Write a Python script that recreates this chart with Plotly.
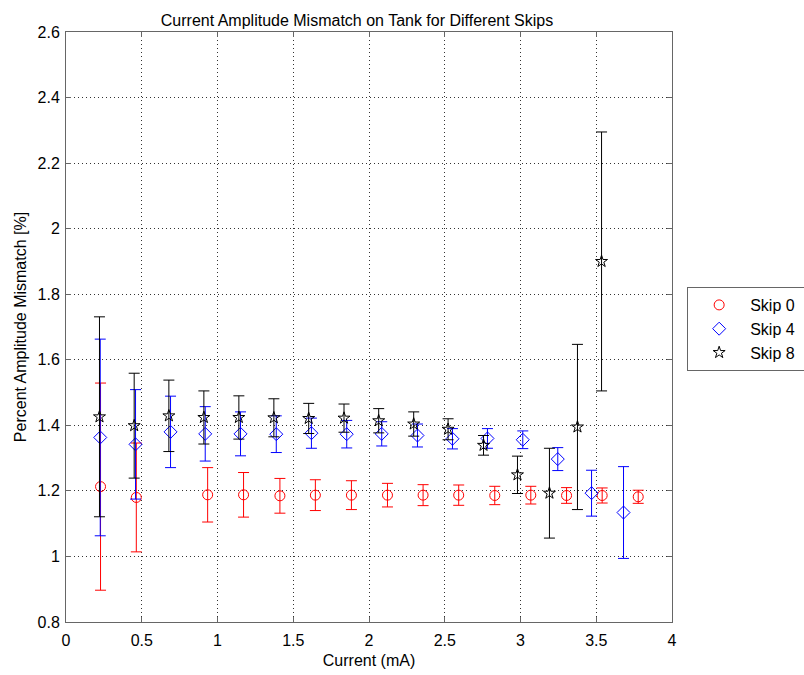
import plotly.graph_objects as go

# Skip 0 (red circles)
x_skip0 = [0.228, 0.464, 0.935, 1.172, 1.412, 1.646, 1.884, 2.122, 2.357, 2.592, 2.830, 3.068, 3.304, 3.539, 3.777]
y_skip0 = [1.213, 1.180, 1.188, 1.188, 1.185, 1.187, 1.187, 1.187, 1.187, 1.187, 1.186, 1.187, 1.186, 1.186, 1.182]
e_skip0 = [0.316, 0.166, 0.083, 0.068, 0.053, 0.047, 0.044, 0.036, 0.032, 0.031, 0.028, 0.027, 0.024, 0.023, 0.020]

# Skip 4 (blue diamonds)
x_skip4 = [0.226, 0.459, 0.690, 0.919, 1.152, 1.388, 1.620, 1.853, 2.084, 2.320, 2.551, 2.782, 3.015, 3.246, 3.469, 3.680]
y_skip4 = [1.363, 1.342, 1.380, 1.374, 1.374, 1.373, 1.376, 1.373, 1.374, 1.369, 1.359, 1.360, 1.356, 1.297, 1.193, 1.134]
e_skip4 = [0.300, 0.167, 0.109, 0.083, 0.067, 0.056, 0.046, 0.042, 0.037, 0.035, 0.031, 0.030, 0.027, 0.035, 0.070, 0.140]

# Skip 8 (black stars)
x_skip8 = [0.221, 0.450, 0.679, 0.910, 1.141, 1.372, 1.602, 1.835, 2.064, 2.295, 2.522, 2.756, 2.980, 3.191, 3.376, 3.535]
y_skip8 = [1.426, 1.399, 1.429, 1.424, 1.424, 1.423, 1.421, 1.422, 1.414, 1.404, 1.388, 1.339, 1.249, 1.193, 1.395, 1.900]
e_skip8 = [0.305, 0.160, 0.109, 0.081, 0.066, 0.058, 0.046, 0.043, 0.037, 0.037, 0.032, 0.030, 0.057, 0.137, 0.252, 0.395]

series_names = ["Skip 0", "Skip 4", "Skip 8"]
x_ticks = [0, 0.5, 1, 1.5, 2, 2.5, 3, 3.5, 4]
y_ticks = [0.8, 1, 1.2, 1.4, 1.6, 1.8, 2, 2.2, 2.4, 2.6]

FONT = "Liberation Sans, Arial, Helvetica, sans-serif"
AXC = "#666666"

fig = go.Figure()

styles = [("red", "circle-open", 10), ("blue", "diamond-open", 10), ("black", "star-open", 9)]
data = [(x_skip0, y_skip0, e_skip0), (x_skip4, y_skip4, e_skip4), (x_skip8, y_skip8, e_skip8)]
for name, (xs, ys, es), (col, sym, sz) in zip(series_names, data, styles):
    fig.add_trace(go.Scatter(
        x=xs, y=ys, mode="markers", name=name + "\u00a0\u00a0",
        marker=dict(symbol=sym, size=sz, color=col, line=dict(width=1, color=col)),
        error_y=dict(type="data", array=es, visible=True, color=col, thickness=1, width=5.5),
    ))

axis_common = dict(
    showline=True, linecolor=AXC, linewidth=1, mirror="allticks",
    ticks="inside", ticklen=5, tickcolor=AXC,
    showgrid=True, gridcolor="#333333", griddash="1px,3px", gridwidth=1,
    zeroline=False, tickfont=dict(family=FONT, size=16, color="black"),
)

fig.update_xaxes(range=[0, 4], tickvals=x_ticks, ticklabelstandoff=4,
                 title=dict(text="Current (mA)", font=dict(family=FONT, size=16, color="black"), standoff=6),
                 **axis_common)
fig.update_yaxes(range=[0.8, 2.6], tickvals=y_ticks, ticklabelstandoff=2,
                 title=dict(text="Percent Amplitude Mismatch [%]", font=dict(family=FONT, size=16, color="black"), standoff=6),
                 **axis_common)

fig.update_layout(
    width=804, height=675,
    margin=dict(l=66, r=132, t=32, b=53, autoexpand=False),
    paper_bgcolor="white", plot_bgcolor="white",
    title=dict(text="Current Amplitude Mismatch on Tank for Different Skips",
               font=dict(family=FONT, size=16, color="black"),
               x=357 / 804, xanchor="center", y=1 - 20 / 675, yanchor="middle"),
    font=dict(family=FONT, size=16, color="black"),
    showlegend=True,
    legend=dict(x=1.025, xanchor="left", y=0.5678, yanchor="top",
                bgcolor="white", bordercolor=AXC, borderwidth=1,
                font=dict(family=FONT, size=16, color="black"),
                itemwidth=52),
)

fig.write_html("out.html")
